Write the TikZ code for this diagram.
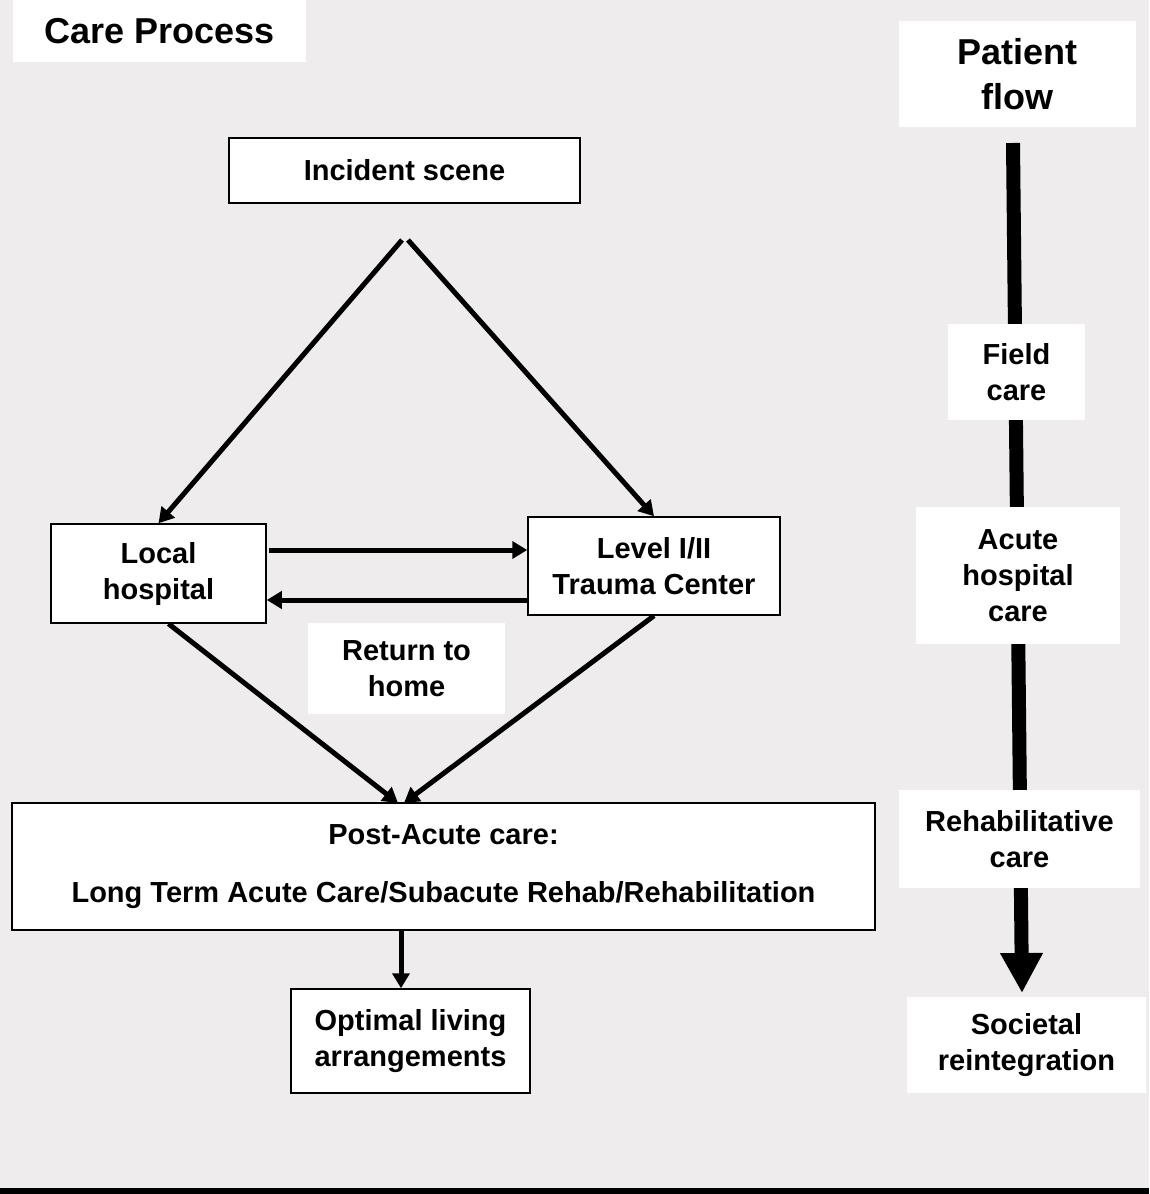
\documentclass[tikz,border=0pt]{standalone}
\usepackage{fontspec}
\setmainfont{Liberation Sans}
\usetikzlibrary{arrows.meta}

\begin{document}
\begin{tikzpicture}[x=1pt,y=-1pt]
  % some colors
  \definecolor{back}{HTML}{EEECED}
  % some styles
  \tikzset{
    box/.style={
      draw=black,
      line width=1.5pt,
      fill=white,
      inner sep=0pt,
      align=center,
      font=\fontsize{29}{36}\selectfont\bfseries,
    },
    plain/.style={box,draw=none},
    title/.style={plain,font=\fontsize{36}{45}\selectfont\bfseries},
    link/.style={-{Triangle[length=15pt,width=17pt]},line width=5pt},
    flowline/.style={-{Triangle[length=40pt,width=40pt]},line width=14pt},
  }
  % background and frame
  \fill[back] (0,0) rectangle (1149,1194);
  \useasboundingbox (0,0) rectangle (1149,1194);
  \fill[black] (0,1188) rectangle (1149,1194);

  % patient flow (right column)
  \coordinate (flowtop) at (1013,143);
  \coordinate (flowtip) at (1022,993);
  \draw[flowline] (flowtop) -- (flowtip);
  \node[title,minimum width=237,minimum height=106] (flow) at (1017.5,74) {Patient\\flow};
  \node[plain,minimum width=137,minimum height=96] (field) at (1016.5,372) {Field\\care};
  \node[plain,minimum width=204,minimum height=137] (acute) at (1018,575.5) {Acute\\hospital\\care};
  \node[plain,minimum width=241,minimum height=98] (rehab) at (1019.5,839) {Rehabilitative\\care};
  \node[plain,minimum width=239,minimum height=96] (societal) at (1026.5,1045) {Societal\\reintegration};

  % care process (left part)
  \node[title,minimum width=293,minimum height=62] (care) at (159.5,31) {Care Process};
  \node[box,minimum width=351,minimum height=65] (incident) at (404.5,170.5) {Incident scene};
  \node[box,minimum width=215,minimum height=99] (local) at (158.5,573.5) {Local\\hospital};
  \node[box,minimum width=252,minimum height=98] (trauma) at (654,566) {Level I/II\\Trauma Center};
  \node[plain,minimum width=197,minimum height=91] (home) at (406.5,668.5) {Return to\\home};
  \node[box,minimum width=863,minimum height=127] (postacute) at (443.5,866.5)
    {Post-Acute care:\\[22pt]Long Term Acute Care/Subacute Rehab/Rehabilitation};
  \node[box,minimum width=239,minimum height=104] (optimal) at (410.5,1041) {Optimal living\\arrangements};

  % helper points for the connectors
  \coordinate (split) at (405,240);
  \coordinate (join) at (401,803);
  \coordinate (upper) at (0,550);
  \coordinate (lower) at (0,600);

  \draw[link] ([xshift=-3pt]split) -- (local.north);
  \draw[link] ([xshift=3pt]split) -- (trauma.north);
  \draw[link] ([xshift=2pt]local.east |- upper) -- (trauma.west |- upper);
  \draw[link] (trauma.west |- lower) -- (local.east |- lower);
  \draw[link] ([xshift=10pt]local.south) -- ([xshift=-3pt]join);
  \draw[link] (trauma.south) -- ([xshift=3pt]join);
  \draw[link] (join |- postacute.south) -- (join |- optimal.north);
\end{tikzpicture}
\end{document}
